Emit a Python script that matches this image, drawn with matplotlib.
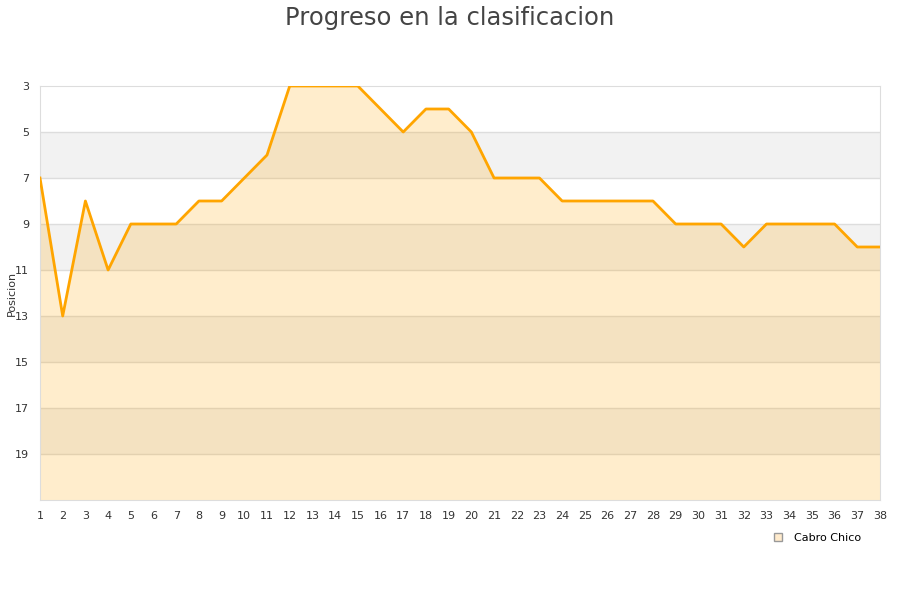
import matplotlib
matplotlib.use("Agg")
import matplotlib.pyplot as plt
import numpy as np

jornadas = list(range(1, 39))
posicion = [7, 13, 8, 11, 9, 9, 9, 8, 8, 7, 6, 3, 3, 3, 3, 4, 5, 4, 4, 5,
            7, 7, 7, 8, 8, 8, 8, 8, 9, 9, 9, 10, 9, 9, 9, 9, 10, 10]
y_ticks = [3, 5, 7, 9, 11, 13, 15, 17, 19]
equipo = "Cabro Chico"

fig = plt.figure(figsize=(9, 6), dpi=100)
ax = fig.add_axes([40 / 900, 100 / 600, 840 / 900, 414 / 600])

# franjas alternas
for i, y0 in enumerate(range(3, 21, 2)):
    if i % 2 == 1:
        ax.axhspan(y0, y0 + 2, color="#f2f2f2", zorder=0, lw=0)
for y in y_ticks[1:]:
    ax.axhline(y, color="#dddddd", lw=1, zorder=1)

ax.fill_between(jornadas, posicion, 21, color="orange", alpha=0.2, lw=0, zorder=2)
ax.plot(jornadas, posicion, color="orange", lw=2, zorder=3)

ax.set_xlim(1, 38)
ax.set_ylim(21, 3)
ax.set_xticks(jornadas)
ax.set_yticks(y_ticks)
ax.tick_params(length=0, labelsize=8, colors="#333333", pad=8)
for s in ax.spines.values():
    s.set_color("#dddddd")

ax.set_ylabel("Posicion", fontsize=8, color="#333333")
ax.yaxis.set_label_coords(-0.028, 0.5)
fig.suptitle("Progreso en la clasificacion", fontsize=17.5, color="#444444", y=0.99)

ax.plot([], [], "s", color="#ffebcc", markeredgecolor="#999999", markersize=6, label=equipo)
ax.legend(loc="upper right", bbox_to_anchor=(0.99, -0.055), frameon=False, fontsize=8,
          handletextpad=0.5)

fig.savefig("out.png", dpi=100)
